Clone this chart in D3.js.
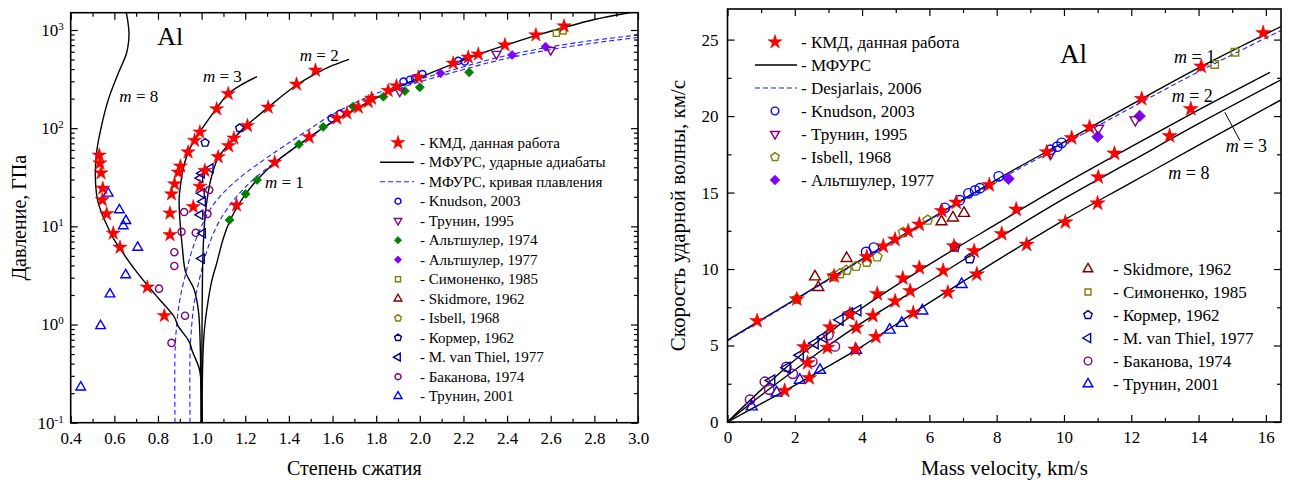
<!DOCTYPE html>
<html>
<head>
<meta charset="utf-8">
<script src="https://cdn.jsdelivr.net/npm/d3@7"></script>
<style>
  html, body { margin: 0; padding: 0; background: #fff; }
  svg { display: block; }
  svg, svg text { font-family: 'Liberation Serif', 'Times New Roman', Times, serif; }
</style>
</head>
<body>
<svg id="chart" width="1295" height="483"></svg>
<script>
// ---------- left panel: compression vs pressure (GPa, log) ----------
const leftXMajor = [0.4, 0.6, 0.8, 1.0, 1.2, 1.4, 1.6, 1.8, 2.0, 2.2, 2.4, 2.6, 2.8, 3.0];
const leftYMajor = [0.1, 1, 10, 100, 1000];

// shock adiabats (MFURS), m = porosity
const leftM1 = [[1.0,0.1],[1.003,0.25],[1.007,0.55],[1.014,0.95],[1.03,1.75],[1.046,2.75],[1.069,4.2],[1.1,7.6],[1.128,11.2],[1.165,16],[1.202,21.4],[1.254,29.7],[1.335,44.5],[1.446,68],[1.557,101],[1.665,140],[1.766,185],[1.858,235],[1.996,325],[2.156,455],[2.271,566],[2.393,700],[2.535,880],[2.661,1060],[2.8,1280],[2.96,1500]];
const leftM2 = [[1.0,0.1],[1.002,1],[1.006,5],[1.015,12],[1.03,22],[1.05,35],[1.076,50],[1.12,67],[1.15,80],[1.21,108],[1.305,163],[1.435,275],[1.524,360],[1.6,435],[1.676,503]];
const leftM3 = [[0.997,0.1],[0.993,0.7],[0.985,1.4],[0.965,2.3],[0.927,3.4],[0.912,6],[0.9,12],[0.897,19],[0.903,26],[0.915,38],[0.94,58],[0.99,90],[1.067,157],[1.12,222],[1.18,275],[1.254,335]];
const leftM8 = [[0.652,1600],[0.66,1300],[0.667,950],[0.665,750],[0.656,580],[0.618,362],[0.572,194],[0.534,89],[0.518,55],[0.513,32],[0.522,19],[0.542,13.6],[0.565,10.4],[0.595,7.6],[0.641,5.3],[0.695,3.6],[0.763,2.34],[0.809,1.78],[0.874,1.2],[0.892,0.97],[0.943,0.67],[0.958,0.53],[0.99,0.35],[1.0,0.2],[1.003,0.1]];
// melting curves (MFURS)
const leftMeltA = [[0.878,0.1],[0.878,0.5],[0.885,0.95],[0.9,1.78],[0.924,3.1],[0.954,5.5],[0.99,9],[1.04,15],[1.1,22],[1.18,32],[1.27,45],[1.37,64],[1.47,90],[1.6,138],[1.756,205],[1.908,275],[2.138,385],[2.367,530],[2.596,672],[2.825,800],[3.0,889]];
const leftMeltB = [[0.947,0.1],[0.947,0.5],[0.955,1.0],[0.965,1.6],[0.985,2.6],[1.023,5.5],[1.069,10],[1.13,16.5],[1.2,25],[1.28,36],[1.38,53],[1.48,76],[1.6,115],[1.756,180],[1.908,255],[2.138,362],[2.367,495],[2.596,630],[2.825,750],[3.0,840]];

const leftStars = [[0.531,53],[0.534,44],[0.539,35],[0.547,24.4],[0.545,18.6],[0.565,13.4],[0.595,8.5],[0.626,6.1],[0.751,2.4],[0.829,1.23],
  [1.122,224],[1.069,157],[0.992,91],[0.968,75],[0.938,57],[0.903,41],[0.893,35.5],[0.876,27],[0.862,21.3],[0.855,13.6],[0.855,8.2],
  [0.962,15.8],[0.992,25.5],[1.015,37],
  [1.076,51],[1.124,66],[1.148,79],[1.21,106],[1.305,163],[1.435,280],[1.522,388],
  [1.16,16.4],[1.335,44.9],[1.493,81],[1.62,126],[1.666,142],[1.718,163],[1.764,186],[1.779,201],[1.855,241],[1.893,269],[1.993,330],[2.153,458],[2.222,527],[2.268,566],[2.39,703],[2.532,889],[2.661,1096]];
const leftKnudson = [[1.596,126],[1.634,140],[1.925,298],[1.955,312],[1.978,322],[2.012,356],[2.176,486],[2.206,478]];
const leftTrunin1995 = [[1.908,236],[2.351,570],[2.6,625]];
const leftAltshuler1974 = [[1.128,11.6],[1.202,21.4],[1.254,29.7],[1.446,68.6],[1.557,103],[1.695,166],[1.833,209],[1.932,239],[2.0,261],[2.226,371]];
const leftAltshuler1977 = [[2.095,362],[2.423,556],[2.576,676]];
const leftSimonenko = [[2.626,925],[2.657,977]];
const leftKormer = [[1.016,71],[1.174,100]];
const leftVanThiel = [[1.04,39],[1.0,34.7],[0.993,31],[1.0,21.7],[1.005,17.9],[0.993,13.1],[1.005,8.5],[1.0,4.7]];
const leftBakanova = [[1.035,23.5],[0.92,14],[1.027,13.4],[0.908,8.8],[0.973,8.6],[0.875,5.45],[0.875,3.95],[0.805,2.32],[0.924,1.23],[0.862,0.65]];
const leftTrunin2001 = [[0.572,21.7],[0.623,14.7],[0.653,11.4],[0.641,10.1],[0.707,6.1],[0.652,3.2],[0.58,2.04],[0.537,0.97],[0.446,0.23]];

const leftLegendLabels = ["- КМД, данная работа", "- МФУРС, ударные адиабаты", "- МФУРС, кривая плавления",
  "- Knudson, 2003", "- Трунин, 1995", "- Альтшулер, 1974", "- Альтшулер, 1977", "- Симоненко, 1985",
  "- Skidmore, 1962", "- Isbell, 1968", "- Кормер, 1962", "- M. van Thiel, 1977", "- Баканова, 1974", "- Трунин, 2001"];

// ---------- right panel: mass velocity vs shock velocity ----------
const rightXMajor = [0, 2, 4, 6, 8, 10, 12, 14, 16];
const rightYMajor = [0, 5, 10, 15, 20, 25];

const rightM1 = [[0,5.35],[2,8.0],[4,10.65],[6,13.25],[8,15.85],[10,18.3],[12,20.75],[14,23.15],[16.45,25.85]];
const rightDesjarlais = [[0,5.3],[2,7.95],[4,10.6],[6,13.2],[8,15.75],[10,18.15],[12,20.55],[14,22.9],[16.45,25.6]];
const rightM2 = [[0,0],[1,2.1],[2,4.05],[3,5.8],[4,7.45],[6,10.3],[8,12.95],[10,15.55],[12,18.0],[14,20.4],[16.12,22.85]];
const rightM3 = [[0,0],[1,1.75],[2,3.4],[3,5.0],[4,6.5],[6,9.2],[8,11.95],[10,14.6],[12,17.05],[14,19.5],[16.45,22.37]];
const rightM8 = [[0,0],[1,1.2],[2,2.4],[3,3.65],[4,4.95],[6,7.8],[8,10.55],[10,13.2],[12,15.65],[14,18.1],[16.45,21.06]];

const rightStars = [[0.88,6.61],[2.06,8.03],[3.17,9.53],[4.14,10.79],[4.63,11.49],[4.98,11.93],[5.37,12.47],[5.7,12.92],[6.37,13.8],[6.8,14.35],[7.78,15.5],[9.49,17.64],[10.23,18.57],[10.76,19.27],[12.31,21.13],[14.08,23.25],[15.92,25.44],
  [2.28,4.9],[3.05,6.2],[3.64,7.05],[4.45,8.38],[5.21,9.4],[5.7,10.08],[6.73,11.5],[8.58,13.9],[11.5,17.56],[13.77,20.47],
  [2.38,3.86],[2.97,4.86],[3.83,6.17],[4.32,6.95],[4.98,7.9],[5.43,8.57],[6.41,9.9],[7.33,11.18],[8.15,12.3],[11.02,16.01],[13.14,18.7],
  [1.7,2.05],[2.43,2.88],[3.8,4.74],[4.41,5.57],[5.52,7.13],[6.55,8.47],[7.41,9.66],[8.89,11.6],[10.04,13.07],[11.0,14.3]];
const rightKnudson = [[4.12,11.12],[4.35,11.4],[6.46,14.0],[6.9,14.5],[7.16,14.95],[7.36,15.14],[7.5,15.28],[8.06,16.06],[9.6,17.8],[9.8,18.0],[9.93,18.25]];
const rightTrunin1995 = [[9.6,17.55],[11.02,19.2],[12.12,19.75]];
const rightIsbell = [[2.06,8.03],[3.13,9.5],[3.34,9.7],[3.54,9.92],[3.82,10.18],[4.14,10.45],[4.45,10.8],[5.22,12.4],[5.95,13.2]];
const rightAltshuler1977 = [[8.35,15.9],[11.0,18.65],[12.25,20.0]];
const rightSkidmore = [[2.6,9.5],[2.7,8.8],[3.54,10.7],[6.36,13.1],[6.7,13.35],[7.03,13.65]];
const rightSimonenko = [[14.48,23.37],[15.08,24.17]];
const rightKormer = [[6.76,11.44],[7.2,10.68]];
const rightVanThiel = [[1.31,2.72],[1.77,3.55],[2.16,4.37],[2.6,5.15],[2.85,5.55],[3.34,6.68],[3.62,7.1],[3.87,7.3]];
const rightBakanova = [[0.67,1.46],[1.11,2.63],[1.24,2.12],[1.75,3.6],[1.94,3.15],[2.52,3.94],[3.0,5.68],[3.19,4.94]];
const rightTrunin2001 = [[0.72,1.0],[1.46,1.91],[2.15,2.74],[2.75,3.39],[3.82,4.7],[4.82,6.02],[5.18,6.46],[5.79,7.27],[6.96,9.0]];

const rightLegendTopLabels = ["- КМД, данная работа", "- МФУРС", "- Desjarlais, 2006", "- Knudson, 2003", "- Трунин, 1995", "- Isbell, 1968", "- Альтшулер, 1977"];
const rightLegendBottomLabels = ["- Skidmore, 1962", "- Симоненко, 1985", "- Кормер, 1962", "- M. van Thiel, 1977", "- Баканова, 1974", "- Трунин, 2001"];

// ---------- drawing ----------
const FONT = "Liberation Serif, Times New Roman, Times, serif";
const svg = d3.select("#chart").style("font-family", FONT);

const symPentagon = {
  draw(ctx, size) {
    const r = Math.sqrt(size / 2.3776);
    for (let i = 0; i < 5; i++) {
      const a = -Math.PI / 2 + i * 2 * Math.PI / 5;
      if (i) ctx.lineTo(r * Math.cos(a), r * Math.sin(a)); else ctx.moveTo(r * Math.cos(a), r * Math.sin(a));
    }
    ctx.closePath();
  }
};
const symDiamond = {
  draw(ctx, size) {
    const r = Math.sqrt(size / 2);
    ctx.moveTo(0, -r); ctx.lineTo(r, 0); ctx.lineTo(0, r); ctx.lineTo(-r, 0); ctx.closePath();
  }
};

const styles = {
  star:     { type: d3.symbolStar, rot: 0, fill: "#ff0000", stroke: "#d40000", sw: 0.5 },
  knudson:  { type: d3.symbolCircle, rot: 0, fill: "none", stroke: "#0000ff", sw: 1.4 },
  trun95:   { type: d3.symbolTriangle, rot: 180, fill: "none", stroke: "#800080", sw: 1.4 },
  alt74:    { type: symDiamond, rot: 0, fill: "#008000", stroke: "#008000", sw: 0.8 },
  alt77:    { type: symDiamond, rot: 0, fill: "#8000ff", stroke: "#8000ff", sw: 0.8 },
  simon:    { type: d3.symbolSquare, rot: 0, fill: "none", stroke: "#808000", sw: 1.4 },
  skid:     { type: d3.symbolTriangle, rot: 0, fill: "none", stroke: "#800000", sw: 1.4 },
  isbell:   { type: symPentagon, rot: 0, fill: "none", stroke: "#808000", sw: 1.4 },
  kormer:   { type: symPentagon, rot: 0, fill: "none", stroke: "#000090", sw: 1.4 },
  vanthiel: { type: d3.symbolTriangle, rot: -90, fill: "none", stroke: "#000090", sw: 1.4 },
  bakan:    { type: d3.symbolCircle, rot: 0, fill: "none", stroke: "#800080", sw: 1.4 },
  trun01:   { type: d3.symbolTriangle, rot: 0, fill: "none", stroke: "#0000ff", sw: 1.4 }
};
const plotSizes = {
  left:  { star: 62, knudson: 40, trun95: 34, alt74: 40, alt77: 40, simon: 38, skid: 36, isbell: 40, kormer: 42, vanthiel: 36, bakan: 40, trun01: 40 },
  right: { star: 70, knudson: 70, trun95: 48, alt74: 60, alt77: 66, simon: 56, skid: 52, isbell: 60, kormer: 60, vanthiel: 52, bakan: 70, trun01: 52 }
};
const legendSizes = {
  left:  { star: 60, knudson: 28, trun95: 24, alt74: 26, alt77: 26, simon: 26, skid: 26, isbell: 30, kormer: 30, vanthiel: 26, bakan: 28, trun01: 28 },
  right: { star: 62, knudson: 46, trun95: 34, alt74: 46, alt77: 46, simon: 36, skid: 40, isbell: 46, kormer: 46, vanthiel: 36, bakan: 46, trun01: 40 }
};

function symbolPath(key, size) {
  return d3.symbol().type(styles[key].type).size(size)();
}

function drawMarkers(g, data, key, x, y, size) {
  const st = styles[key];
  g.append("g").selectAll("path").data(data).join("path")
    .attr("transform", d => `translate(${x(d[0])},${y(d[1])}) rotate(${st.rot})`)
    .attr("d", symbolPath(key, size))
    .attr("fill", st.fill).attr("stroke", st.stroke).attr("stroke-width", st.sw);
}

function drawCurve(g, data, x, y, dashed) {
  const line = d3.line().x(d => x(d[0])).y(d => y(d[1])).curve(d3.curveCatmullRom.alpha(0.5));
  g.append("path").datum(data)
    .attr("fill", "none")
    .attr("stroke", dashed ? "#1f1fff" : "#000")
    .attr("stroke-width", dashed ? 1.1 : 1.4)
    .attr("stroke-dasharray", dashed ? "5,3" : null)
    .attr("d", line);
}

function styleAxis(sel, fs) {
  sel.attr("font-family", null).attr("font-size", fs).style("font-family", FONT);
  sel.select(".domain").remove();
  sel.selectAll(".tick line").attr("stroke", "#000").attr("stroke-width", 1.2);
  sel.selectAll(".tick text").attr("fill", "#000");
}

function drawAxes(box, x, y, o) {
  const g = svg.append("g");
  const sides = [
    { fn: d3.axisBottom, scale: x, tr: `translate(0,${box.bottom})`, labels: true, major: o.xMajor, minor: o.xMinor, fmt: o.xFmt, pad: o.xPad },
    { fn: d3.axisTop, scale: x, tr: `translate(0,${box.top})`, labels: false, major: o.xMajor, minor: o.xMinor },
    { fn: d3.axisLeft, scale: y, tr: `translate(${box.left},0)`, labels: true, major: o.yMajor, minor: o.yMinor, fmt: o.yFmt, pad: o.yPad },
    { fn: d3.axisRight, scale: y, tr: `translate(${box.right},0)`, labels: false, major: o.yMajor, minor: o.yMinor }
  ];
  for (const s of sides) {
    g.append("g").attr("transform", s.tr)
      .call(s.fn(s.scale).tickValues(s.minor).tickSizeInner(-4).tickSizeOuter(0).tickFormat(""))
      .call(sel => styleAxis(sel, 17));
    const ax = g.append("g").attr("transform", s.tr)
      .call(s.fn(s.scale).tickValues(s.major).tickSizeInner(-7).tickSizeOuter(0)
        .tickPadding(s.pad || 3).tickFormat(s.labels ? s.fmt : () => ""))
      .call(sel => styleAxis(sel, 17));
    if (s.labels && o.logY && s.fn === d3.axisLeft) {
      ax.selectAll(".tick text").each(function(d) {
        const t = d3.select(this);
        t.text("10");
        t.append("tspan").attr("dy", "-0.55em").attr("font-size", "11px").text(Math.round(Math.log10(d)));
      });
    }
  }
  g.append("rect")
    .attr("x", box.left).attr("y", box.top)
    .attr("width", box.right - box.left).attr("height", box.bottom - box.top)
    .attr("fill", "none").attr("stroke", "#000").attr("stroke-width", 1.6);
}

function clipFor(id, box) {
  svg.append("clipPath").attr("id", id).append("rect")
    .attr("x", box.left).attr("y", box.top)
    .attr("width", box.right - box.left).attr("height", box.bottom - box.top);
}

function mLabel(g, x, y, value, fs) {
  const t = g.append("text").attr("x", x).attr("y", y).attr("font-size", fs);
  t.append("tspan").attr("font-style", "italic").text("m");
  t.append("tspan").text(" = " + value);
}

// ===== left panel =====
const L = { left: 70.7, right: 638, top: 12.7, bottom: 422.7 };
const xL = d3.scaleLinear().domain([0.4, 3.0]).range([L.left, L.right]);
const yL = d3.scaleLog().domain([0.1, 1500]).range([L.bottom, L.top]);
const leftXMinor = d3.range(5, 30, 2).map(v => v / 10);
const leftYMinor = [];
for (const dec of [0.1, 1, 10, 100]) for (let k = 2; k <= 9; k++) leftYMinor.push(+(k * dec).toPrecision(3));

clipFor("clipL", L);
const gL = svg.append("g").attr("clip-path", "url(#clipL)");
drawCurve(gL, leftMeltA, xL, yL, true);
drawCurve(gL, leftMeltB, xL, yL, true);
[leftM1, leftM2, leftM3, leftM8].forEach(c => drawCurve(gL, c, xL, yL, false));

const gLm = svg.append("g");
drawMarkers(gLm, leftTrunin2001, "trun01", xL, yL, plotSizes.left.trun01);
drawMarkers(gLm, leftBakanova, "bakan", xL, yL, plotSizes.left.bakan);
drawMarkers(gLm, leftVanThiel, "vanthiel", xL, yL, plotSizes.left.vanthiel);
drawMarkers(gLm, leftKormer, "kormer", xL, yL, plotSizes.left.kormer);
drawMarkers(gLm, leftSimonenko, "simon", xL, yL, plotSizes.left.simon);
drawMarkers(gLm, leftAltshuler1977, "alt77", xL, yL, plotSizes.left.alt77);
drawMarkers(gLm, leftAltshuler1974, "alt74", xL, yL, plotSizes.left.alt74);
drawMarkers(gLm, leftTrunin1995, "trun95", xL, yL, plotSizes.left.trun95);
drawMarkers(gLm, leftKnudson, "knudson", xL, yL, plotSizes.left.knudson);
drawMarkers(gLm, leftStars, "star", xL, yL, plotSizes.left.star);

drawAxes(L, xL, yL, {
  xMajor: leftXMajor, xMinor: leftXMinor, xFmt: d3.format(".1f"), xPad: 9,
  yMajor: leftYMajor, yMinor: leftYMinor, yFmt: () => "", yPad: 7, logY: true
});

// annotations
svg.append("text").attr("x", xL(0.797)).attr("y", yL(700)).attr("font-size", 26).text("Al");
mLabel(svg, xL(0.623), yL(185), 8, 17);
mLabel(svg, xL(1.006), yL(295), 3, 17);
mLabel(svg, xL(1.45), yL(483), 2, 17);
mLabel(svg, xL(1.29), yL(24.6), 1, 17);

// left legend
const legL = svg.append("g").attr("font-size", 15);
const legLKeys = ["star", "solid", "dash", "knudson", "trun95", "alt74", "alt77", "simon", "skid", "isbell", "kormer", "vanthiel", "bakan", "trun01"];
legLKeys.forEach((k, i) => {
  const yy = 142.7 + i * 19.5;
  if (k === "solid" || k === "dash") {
    legL.append("line").attr("x1", 380).attr("x2", 414).attr("y1", yy).attr("y2", yy)
      .attr("stroke", k === "solid" ? "#000" : "#1f1fff").attr("stroke-width", k === "solid" ? 1.4 : 1.1)
      .attr("stroke-dasharray", k === "dash" ? "5,3" : null);
  } else {
    const st = styles[k];
    legL.append("path").attr("transform", `translate(398,${yy}) rotate(${st.rot})`)
      .attr("d", symbolPath(k, legendSizes.left[k]))
      .attr("fill", st.fill).attr("stroke", st.stroke).attr("stroke-width", st.sw);
  }
  legL.append("text").attr("x", 420).attr("y", yy + 5).text(leftLegendLabels[i]);
});

svg.append("text").attr("x", (L.left + L.right) / 2).attr("y", 475).attr("text-anchor", "middle")
  .attr("font-size", 20).text("Степень сжатия");
svg.append("text").attr("transform", `translate(26,${(L.top + L.bottom) / 2}) rotate(-90)`)
  .attr("text-anchor", "middle").attr("font-size", 20).text("Давление, ГПа");

// ===== right panel =====
const R = { left: 727.5, right: 1281, top: 9, bottom: 422 };
const xR = d3.scaleLinear().domain([0, 16.45]).range([R.left, R.right]);
const yR = d3.scaleLinear().domain([0, 27]).range([R.bottom, R.top]);

clipFor("clipR", R);
const gR = svg.append("g").attr("clip-path", "url(#clipR)");
[rightM1, rightM2, rightM3, rightM8].forEach(c => drawCurve(gR, c, xR, yR, false));
drawCurve(gR, rightDesjarlais, xR, yR, true);
// leader from m = 3 label to its line
gR.append("line").attr("x1", xR(14.78)).attr("y1", yR(20.25)).attr("x2", xR(15.23)).attr("y2", yR(18.4))
  .attr("stroke", "#000").attr("stroke-width", 1);

const gRm = svg.append("g");
drawMarkers(gRm, rightTrunin2001, "trun01", xR, yR, plotSizes.right.trun01);
drawMarkers(gRm, rightBakanova, "bakan", xR, yR, plotSizes.right.bakan);
drawMarkers(gRm, rightVanThiel, "vanthiel", xR, yR, plotSizes.right.vanthiel);
drawMarkers(gRm, rightKormer, "kormer", xR, yR, plotSizes.right.kormer);
drawMarkers(gRm, rightSkidmore, "skid", xR, yR, plotSizes.right.skid);
drawMarkers(gRm, rightIsbell, "isbell", xR, yR, plotSizes.right.isbell);
drawMarkers(gRm, rightSimonenko, "simon", xR, yR, plotSizes.right.simon);
drawMarkers(gRm, rightAltshuler1977, "alt77", xR, yR, plotSizes.right.alt77);
drawMarkers(gRm, rightTrunin1995, "trun95", xR, yR, plotSizes.right.trun95);
drawMarkers(gRm, rightKnudson, "knudson", xR, yR, plotSizes.right.knudson);
drawMarkers(gRm, rightStars, "star", xR, yR, plotSizes.right.star);

drawAxes(R, xR, yR, {
  xMajor: rightXMajor, xMinor: d3.range(1, 16, 2), xFmt: d3.format("d"), xPad: 9,
  yMajor: rightYMajor, yMinor: d3.range(2.5, 27, 5), yFmt: d3.format("d"), yPad: 9, logY: false
});

svg.append("text").attr("x", xR(9.88)).attr("y", yR(23.5)).attr("font-size", 27).text("Al");
mLabel(svg, xR(13.27), yR(23.5), 1, 18);
mLabel(svg, xR(13.2), yR(20.9), 2, 18);
mLabel(svg, xR(14.81), yR(17.64), 3, 18);
mLabel(svg, xR(13.1), yR(15.9), 8, 18);

// right legends
const legR = svg.append("g").attr("font-size", 17);
const legRTopKeys = ["star", "solid", "dash", "knudson", "trun95", "isbell", "alt77"];
legRTopKeys.forEach((k, i) => {
  const yy = 42 + i * 23;
  if (k === "solid" || k === "dash") {
    legR.append("line").attr("x1", 755).attr("x2", 797).attr("y1", yy).attr("y2", yy)
      .attr("stroke", k === "solid" ? "#000" : "#1f1fff").attr("stroke-width", k === "solid" ? 1.4 : 1.1)
      .attr("stroke-dasharray", k === "dash" ? "5,3" : null);
  } else {
    const st = styles[k];
    legR.append("path").attr("transform", `translate(775,${yy}) rotate(${st.rot})`)
      .attr("d", symbolPath(k, legendSizes.right[k]))
      .attr("fill", st.fill).attr("stroke", st.stroke).attr("stroke-width", st.sw);
  }
  legR.append("text").attr("x", 801).attr("y", yy + 6).text(rightLegendTopLabels[i]);
});
const legRBottomKeys = ["skid", "simon", "kormer", "vanthiel", "bakan", "trun01"];
legRBottomKeys.forEach((k, i) => {
  const yy = 269 + i * 23;
  const st = styles[k];
  legR.append("path").attr("transform", `translate(1088,${yy}) rotate(${st.rot})`)
    .attr("d", symbolPath(k, legendSizes.right[k]))
    .attr("fill", st.fill).attr("stroke", st.stroke).attr("stroke-width", st.sw);
  legR.append("text").attr("x", 1113).attr("y", yy + 6).text(rightLegendBottomLabels[i]);
});

svg.append("text").attr("x", (R.left + R.right) / 2).attr("y", 475).attr("text-anchor", "middle")
  .attr("font-size", 21).text("Mass velocity, km/s");
svg.append("text").attr("transform", `translate(685,${(R.top + R.bottom) / 2}) rotate(-90)`)
  .attr("text-anchor", "middle").attr("font-size", 21).text("Скорость ударной волны, км/с");
</script>
</body>
</html>
